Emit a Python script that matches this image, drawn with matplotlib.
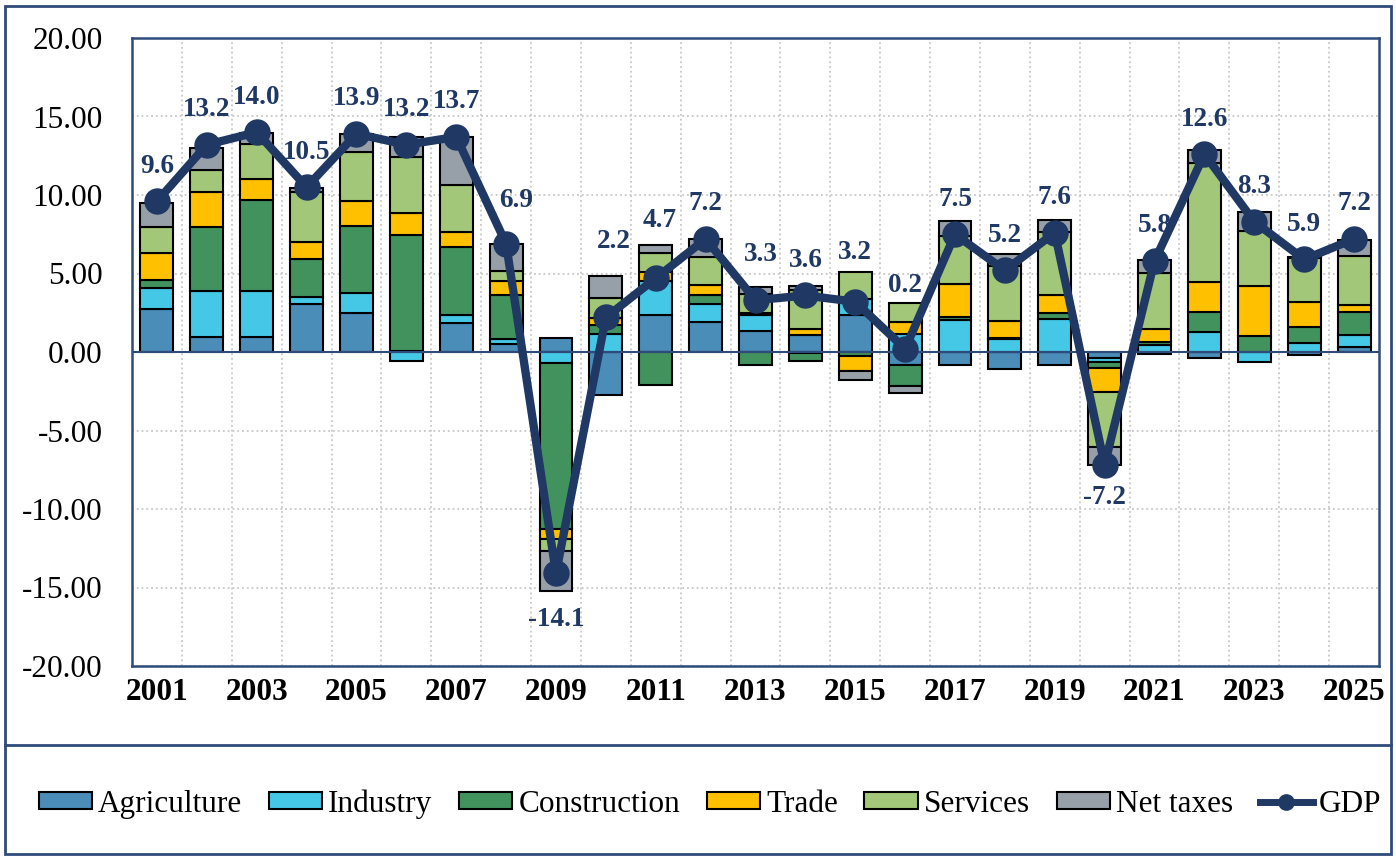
import numpy as np
import matplotlib.pyplot as plt
from matplotlib.patches import Patch, Rectangle
from matplotlib.lines import Line2D

plt.rcParams['font.family'] = ['Liberation Serif', 'DejaVu Serif']

years = [str(y) for y in range(2001, 2026)]

agriculture = [2.76, 0.96, 0.96, 3.08, 2.46, 0.05, 1.83, 0.49, 0.91, -2.76, 2.34, 1.93, 1.32,
               1.10, 2.37, -0.81, -0.81, -1.06, -0.83, -0.36, -0.10, -0.36, 0.02, -0.17, 0.32]
industry = [1.34, 2.93, 2.93, 0.42, 1.30, -0.57, 0.53, 0.36, -0.72, 1.15, 2.16, 1.10, 1.02,
            -0.05, 1.01, 1.17, 2.06, 0.85, 2.12, -0.28, 0.45, 1.29, -0.62, 0.60, 0.74]
construction = [0.49, 4.07, 5.77, 2.40, 4.29, 7.40, 4.33, 2.78, -10.53, 0.60, -2.12, 0.60, -0.85,
                -0.53, -0.28, -1.36, 0.17, 0.05, 0.38, -0.36, 0.21, 1.26, 1.02, 1.00, 1.49]
trade = [1.72, 2.23, 1.38, 1.11, 1.57, 1.42, 0.95, 0.89, -0.64, 0.41, 0.60, 0.63, 0.15,
         0.38, -0.95, 0.74, 2.08, 1.08, 1.10, -1.55, 0.79, 1.91, 3.18, 1.59, 0.42]
services = [1.65, 1.38, 2.19, 3.20, 3.12, 3.55, 2.98, 0.64, -0.76, 1.27, 1.23, 1.82, 1.20,
            2.49, 1.70, 1.19, 3.06, 3.48, 4.05, -3.50, 3.56, 7.56, 3.51, 2.82, 3.14]
net_taxes = [1.55, 1.40, 0.74, 0.26, 1.13, 1.29, 3.09, 1.74, -2.55, 1.43, 0.47, 1.11, 0.43,
             0.21, -0.57, -0.42, 0.97, 0.79, 0.73, -1.17, 0.83, 0.85, 1.16, 0.05, 1.02]
gdp = [9.6, 13.2, 14.0, 10.5, 13.9, 13.2, 13.7, 6.9, -14.1, 2.2, 4.7, 7.2, 3.3,
       3.6, 3.2, 0.2, 7.5, 5.2, 7.6, -7.2, 5.8, 12.6, 8.3, 5.9, 7.2]

series = [agriculture, industry, construction, trade, services, net_taxes]
names = ['Agriculture', 'Industry', 'Construction', 'Trade', 'Services', 'Net taxes']
colors = ['#4A8DB9', '#45C8E6', '#42925E', '#FFC000', '#A2C778', '#97A0A9']
navy = '#1F3864'
frame = '#2F4B7C'

# label offsets in pixels (dx, dy)
label_off = [(0, 35)] * 25
label_off = list(label_off)
label_off[7] = (10, 43)
label_off[8] = (0, -46)
label_off[9] = (8, 76)
label_off[10] = (4, 58)
label_off[12] = (5, 46)
label_off[14] = (0, 49)
label_off[15] = (0, 63)
label_off[19] = (0, -32)

fig = plt.figure(figsize=(13.96, 8.58), dpi=100)
ax = fig.add_axes([132 / 1396, 1 - 666 / 858, 1247 / 1396, 628 / 858])

x = np.arange(len(years))
pos_bottom = np.zeros(len(years))
neg_bottom = np.zeros(len(years))
for vals, c in zip(series, colors):
    v = np.array(vals)
    bottom = np.where(v >= 0, pos_bottom, neg_bottom)
    ax.bar(x, v, 0.66, bottom=bottom, color=c, edgecolor='black', linewidth=1.5, zorder=2)
    pos_bottom += np.where(v >= 0, v, 0)
    neg_bottom += np.where(v < 0, v, 0)

ax.axhline(0, color=frame, lw=1.5, zorder=2.5)
ax.plot(x, gdp, color=navy, lw=6, marker='o', ms=18, zorder=3)

for i, g in enumerate(gdp):
    dx, dy = label_off[i]
    ax.annotate('{:.1f}'.format(g), (x[i], g), xytext=(dx, dy), textcoords='offset pixels',
                ha='center', va='center', fontsize=19.5, fontweight='bold', color=navy, zorder=4)

ax.set_xlim(-0.5, len(years) - 0.5)
ax.set_ylim(-20, 20)
ax.set_yticks(np.arange(-20, 21, 5))
ax.set_yticklabels(['{:.2f}'.format(v) for v in np.arange(-20, 21, 5)], fontsize=22.5)
ax.set_xticks(x[::2])
ax.set_xticklabels(years[::2], fontsize=22.5, fontweight='bold')
ax.set_xticks(x[:-1] + 0.5, minor=True)
ax.tick_params(axis='y', length=0, pad=21)
ax.tick_params(axis='x', which='both', length=0, pad=9)
ax.grid(axis='y', which='major', linestyle=':', color='#C8C8C8', lw=1.3, zorder=0)
ax.grid(axis='x', which='minor', linestyle=':', color='#C8C8C8', lw=1.3, zorder=0)
ax.set_axisbelow(True)
for s in ax.spines.values():
    s.set_color(frame)
    s.set_linewidth(1.8)

# outer frame and separator
fig.patches.append(Rectangle((5 / 1396, 4 / 858), 1386 / 1396, 848 / 858, transform=fig.transFigure,
                             fill=False, edgecolor=frame, lw=2))
fig.lines.append(Line2D([5 / 1396, 1391 / 1396], [1 - 745 / 858] * 2, transform=fig.transFigure,
                        color=frame, lw=2))

handles = [Patch(facecolor=c, edgecolor='black', lw=1.5) for c in colors]
handles.append(Line2D([], [], color=navy, lw=5, marker='o', ms=11))
fig.legend(handles, names + ['GDP'], loc='center', bbox_to_anchor=(710 / 1396, 1 - 804 / 858), ncol=7,
           frameon=False, fontsize=22.5, handlelength=1.7, handleheight=0.45, handletextpad=0.2,
           columnspacing=0.85)

fig.savefig('out.png', dpi=100)
